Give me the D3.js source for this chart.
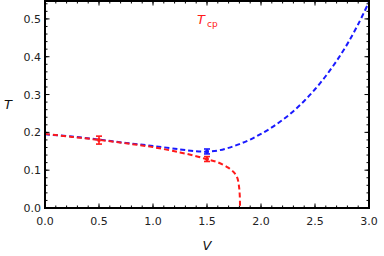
<!DOCTYPE html>
<html>
<head>
<script src="https://d3js.org/d3.v7.min.js"></script>
<style>
body{margin:0;background:#fff;}
text{font-family:"DejaVu Sans",sans-serif;}
</style>
</head>
<body>
<svg id="chart" width="384" height="256"></svg>
<script>
// blue branch
const blueV=[0,0.25,0.5,0.75,1.0,1.25,1.4,1.5,1.6,1.7,1.8,1.9,2.0,2.1,2.2,2.3,2.4,2.5,2.6,2.7,2.8,2.9,3.0];
const blueT=[0.195,0.189,0.181,0.172,0.164,0.155,0.150,0.149,0.152,0.159,0.169,0.181,0.196,0.213,0.233,0.256,0.283,0.314,0.349,0.389,0.434,0.486,0.545];
// red branch
const redV=[0,0.25,0.5,0.75,1.0,1.25,1.4,1.5,1.6,1.7,1.75,1.78,1.795,1.803,1.806];
const redT=[0.196,0.188,0.180,0.171,0.161,0.147,0.137,0.129,0.121,0.106,0.094,0.080,0.060,0.035,0];
// error bars
const errBars=[
  {v:0.5,lo:0.169,hi:0.190,c:"red"},
  {v:1.5,lo:0.123,hi:0.136,c:"red"},
  {v:1.5,lo:0.143,hi:0.156,c:"blue"}
];
const xTicks=[0,0.5,1.0,1.5,2.0,2.5,3.0];
const yTicks=[0,0.1,0.2,0.3,0.4,0.5];

const svg=d3.select("#chart");
const x=d3.scaleLinear().domain([0,3]).range([45,369]);
const y=d3.scaleLinear().domain([0,0.55]).range([208,0]);
const red="#ff1a1a", blue="#1a1aff";

// minor/major ticks, inward on all four sides
const minorX=d3.range(0,3.001,0.1), minorY=d3.range(0,0.551,0.02);
const g=svg.append("g");
function ticks(vals,len,isX){
  vals.forEach(v=>{
    if(isX){
      g.append("line").attr("x1",x(v)).attr("x2",x(v)).attr("y1",208).attr("y2",208-len).attr("stroke","#000");
      g.append("line").attr("x1",x(v)).attr("x2",x(v)).attr("y1",1).attr("y2",1+len).attr("stroke","#000");
    }else{
      g.append("line").attr("y1",y(v)).attr("y2",y(v)).attr("x1",45).attr("x2",45+len).attr("stroke","#000");
      g.append("line").attr("y1",y(v)).attr("y2",y(v)).attr("x1",369).attr("x2",369-len).attr("stroke","#000");
    }
  });
}
ticks(minorX,2.5,true);ticks(xTicks,4.5,true);
ticks(minorY,2.5,false);ticks(yTicks,4.5,false);

const line=d3.line().x(d=>x(d[0])).y(d=>y(d[1])).curve(d3.curveCatmullRom);
svg.append("path").datum(d3.zip(blueV,blueT)).attr("d",line)
  .attr("fill","none").attr("stroke",blue).attr("stroke-width",2).attr("stroke-dasharray","5,3");
svg.append("path").datum(d3.zip(redV,redT)).attr("d",line)
  .attr("fill","none").attr("stroke",red).attr("stroke-width",2).attr("stroke-dasharray","5,3");

errBars.forEach(e=>{
  const c=e.c=="red"?red:blue;
  svg.append("line").attr("x1",x(e.v)).attr("x2",x(e.v)).attr("y1",y(e.lo)).attr("y2",y(e.hi)).attr("stroke",c).attr("stroke-width",1.6);
  [e.lo,e.hi].forEach(t=>svg.append("line").attr("x1",x(e.v)-3).attr("x2",x(e.v)+3).attr("y1",y(t)).attr("y2",y(t)).attr("stroke",c).attr("stroke-width",1.6));
  svg.append("circle").attr("cx",x(e.v)).attr("cy",y((e.lo+e.hi)/2)).attr("r",2).attr("fill",c);
});

// frame
svg.append("rect").attr("x",45).attr("y",1).attr("width",324).attr("height",207)
  .attr("fill","none").attr("stroke","#000").attr("stroke-width",2);

// tick labels
svg.selectAll(".xl").data(xTicks).enter().append("text")
  .attr("x",d=>x(d)).attr("y",225).attr("text-anchor","middle").attr("font-size",11).attr("fill","#222")
  .text(d=>d.toFixed(1));
svg.selectAll(".yl").data(yTicks).enter().append("text")
  .attr("x",41).attr("y",d=>y(d)+4).attr("text-anchor","end").attr("font-size",11).attr("fill","#222")
  .text(d=>d.toFixed(1));

svg.append("text").attr("x",8).attr("y",109).attr("text-anchor","middle").attr("font-size",13)
  .attr("font-style","italic").attr("fill","#111").text("T");
svg.append("text").attr("x",207).attr("y",250).attr("text-anchor","middle").attr("font-size",13)
  .attr("font-style","italic").attr("fill","#111").text("V");

const lab=svg.append("text").attr("x",197).attr("y",24).attr("fill",red);
lab.append("tspan").attr("font-size",13).attr("font-style","italic").text("T");
lab.append("tspan").attr("font-size",9).attr("dx",2).attr("dy",3).text("cp");
</script>
</body>
</html>
